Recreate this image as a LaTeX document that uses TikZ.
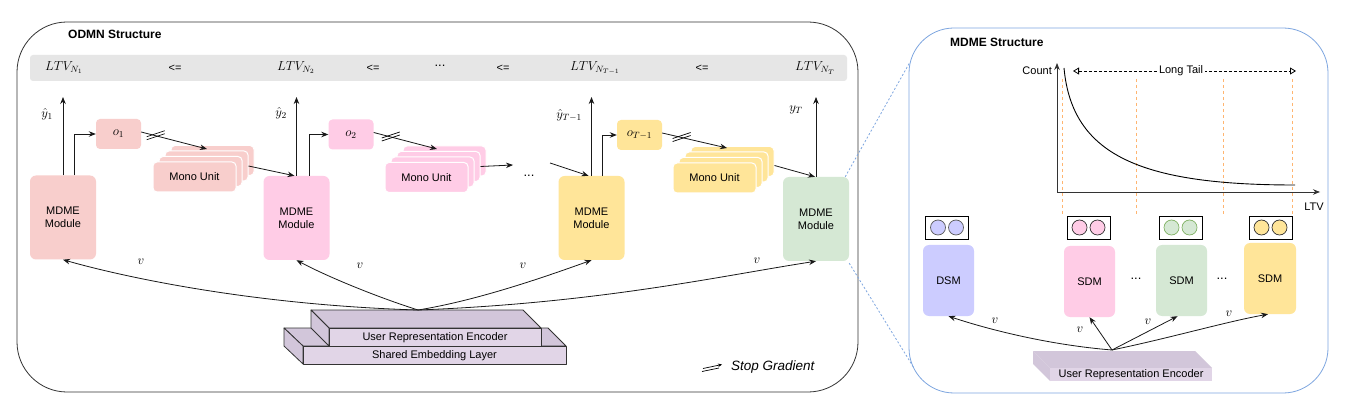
\RequirePackage{fix-cm}
\documentclass[tikz,border=0pt]{standalone}
\usepackage{fontspec}
\setmainfont{Liberation Sans}
\usetikzlibrary{arrows.meta,calc}
\definecolor{redL}{HTML}{F8CECC}
\definecolor{pinkL}{HTML}{FFCCE6}
\definecolor{yelL}{HTML}{FFE599}
\definecolor{greenL}{HTML}{D5E8D4}
\definecolor{purpL}{HTML}{CCCCFF}
\definecolor{encF}{HTML}{E1D5E7}
\definecolor{encT}{HTML}{D2C6DA}
\definecolor{blueS}{HTML}{7EA6E0}
\definecolor{orangeD}{HTML}{FFB570}
\definecolor{barG}{HTML}{E6E6E6}
\definecolor{edgeC}{HTML}{333333}
\definecolor{greenS}{HTML}{82B366}
\newcommand\fsA{\fontsize{11}{13}\selectfont}
\newcommand\fsB{\fontsize{12}{14}\selectfont}
\newcommand\fsM{\fontsize{13}{15}\selectfont}
\newcommand\fsL{\fontsize{13.5}{16}\selectfont}
\tikzset{sgmark/.pic={\draw[line width=0.7pt] (-9,4) -- (9,-2); \draw[line width=0.7pt] (-9,1) -- (9,-5);}}
\begin{document}
\begin{tikzpicture}[x=1pt,y=-1pt,
  every node/.style={font=\fsA, text=black},
  mod/.style={rounded corners=6pt, minimum width=66pt, minimum height=84pt, align=center, inner sep=0pt},
  obox/.style={rounded corners=4pt, minimum width=45pt, minimum height=30pt, inner sep=0pt, font=\fsM},
  mono/.style={rounded corners=4pt, minimum width=83pt, minimum height=30pt, draw=white, line width=1pt, inner sep=0pt},
  arr/.style={-{Stealth[length=7pt,width=5.5pt]}, line width=0.8pt, draw=black!90},
  sub/.style={rounded corners=6pt, minimum width=51pt, minimum height=71pt, inner sep=0pt},
  cbox/.style={draw=black, line width=0.8pt, minimum width=43pt, minimum height=23pt, inner sep=0pt},
  cdot/.style={circle, minimum size=15pt, inner sep=0pt, line width=0.7pt},
  orng/.style={draw=orangeD, dash pattern=on 3pt off 3pt, line width=0.9pt},
  zoomln/.style={draw=blueS, dash pattern=on 2pt off 2pt, line width=0.8pt},
  fce/.style={draw=edgeC, line width=0.8pt, line join=round},
  mlab/.style={font=\fsM, inner sep=0pt},
  dts/.style={font=\fsM}
]
\fill[white] (0,0) rectangle (1351,403);
\useasboundingbox (0,0) rectangle (1351,403);

% ================= ODMN =================
\draw[draw=black!80, line width=0.8pt, rounded corners=50pt] (17,22) rectangle (858,392);
\node[anchor=west, font=\fsB\bfseries, inner sep=0pt] (odmnT) at (68,34) {ODMN Structure};
\node[fill=barG, rounded corners=3pt, minimum width=817pt, minimum height=26pt, inner sep=0pt] (bar) at (438.5,68) {};
\node[font=\fsM] (l1) at (64,68) {$LTV_{N_1}$};
\node (le1) at (175,68) {<=};
\node[font=\fsM] (l2) at (296,68) {$LTV_{N_2}$};
\node (le2) at (373,68) {<=};
\node[dts] (ld) at (440,66) {...};
\node (le3) at (503,68) {<=};
\node[font=\fsM] (l3) at (595,68) {$LTV_{N_{T-1}}$};
\node (le4) at (702,68) {<=};
\node[font=\fsM] (l4) at (815,68) {$LTV_{N_T}$};

% modules
\node[mod, fill=redL] (m1) at (63,217.5) {MDME\\Module};
\node[mod, fill=pinkL] (m2) at (296.5,218) {MDME\\Module};
\node[mod, fill=yelL] (m3) at (591.5,218) {MDME\\Module};
\node[mod, fill=greenL] (m4) at (816,219) {MDME\\Module};

% o boxes
\node[obox, fill=redL] (o1) at (118.5,134) {$o_1$};
\node[obox, fill=pinkL] (o2) at (351,134.5) {$o_2$};
\node[obox, fill=yelL] (o3) at (639.5,135) {$o_{T-1}$};

% mono stacks
\foreach \k in {3,2,1} {
  \node[mono, fill=redL] (mua-\k) at (194.5+6*\k,177-5.5*\k) {};
}
\node[mono, fill=redL] (mua-0) at (194.5,177) {Mono Unit};
\foreach \k in {3,2,1} {
  \node[mono, fill=pinkL] (mub-\k) at (426.5+6*\k,177.5-5.5*\k) {};
}
\node[mono, fill=pinkL] (mub-0) at (426.5,177.5) {Mono Unit};
\foreach \k in {3,2,1} {
  \node[mono, fill=yelL] (muc-\k) at (714.5+6*\k,178-5.5*\k) {};
}
\node[mono, fill=yelL] (muc-0) at (714.5,178) {Mono Unit};

% up arrows
\coordinate (ytop) at (0,97);
\draw[arr] (m1.north) -- (m1.north |- ytop);
\draw[arr] (m2.north) -- (m2.north |- ytop);
\draw[arr] (m3.north) -- (m3.north |- ytop);
\draw[arr] (m4.north) -- (m4.north |- ytop);
\node[mlab] (y1) at (47,114) {$\hat{y}_1$};
\node[mlab] (y2) at (281,113) {$\hat{y}_2$};
\node[mlab] (y3) at (569,115) {$\hat{y}_{T-1}$};
\node[mlab] (y4) at (796,110) {$y_T$};

% module -> o
\draw[arr] ([xshift=11pt]m1.north) |- (o1.west);
\draw[arr] ([xshift=12.5pt]m2.north) |- (o2.west);
\draw[arr] ([xshift=10.5pt]m3.north) |- (o3.west);

% o -> mono (stop gradient)
\coordinate (t1) at (207,149);
\coordinate (t2) at (437,149);
\coordinate (t3) at (727,148);
\draw[arr] ([yshift=2pt]o1.east) -- (t1) coordinate[pos=0.22] (s1);
\draw[arr] ([yshift=2pt]o2.east) -- (t2) coordinate[pos=0.27] (s2);
\draw[arr] ([yshift=2pt]o3.east) -- (t3) coordinate[pos=0.3] (s3);
\pic at (s1) {sgmark};
\pic at (s2) {sgmark};
\pic at (s3) {sgmark};

% mono -> next module
\draw[arr] (mua-2.east) -- ([xshift=-2pt]m2.north);
\coordinate (e1) at (513,165);
\draw[arr] (mub-2.east) -- (e1);
\node[dts] (dots1) at (529,176) {...};
\coordinate (e2) at (550,163);
\draw[arr] (e2) -- ([xshift=-3pt]m3.north);
\draw[arr] ($(muc-3.east)+(0,4)$) -- ([xshift=-1pt]m4.north);

% encoder stack
\filldraw[fce, fill=encT] (284,328) -- (548,328) -- (566,346) -- (303,346) -- cycle;
\filldraw[fce, fill=encT] (284,328) -- (303,346) -- (303,364) -- (284,346) -- cycle;
\filldraw[fce, fill=encF] (303,346) rectangle (566,364);
\filldraw[fce, fill=encT] (311,310) -- (523,310) -- (541,328) -- (329,328) -- cycle;
\filldraw[fce, fill=encT] (311,310) -- (329,328) -- (329,346) -- (311,328) -- cycle;
\filldraw[fce, fill=encF] (329,328) rectangle (541,346);
\node (ure) at (435,337.5) {User Representation Encoder};
\node (sel) at (434.5,355.5) {Shared Embedding Layer};
\coordinate (src1) at (418,310);

% v arrows
\draw[arr] (src1) .. controls (250,305) and (120,276) .. (m1.south);
\draw[arr] (src1) .. controls (380,298) and (330,278) .. (m2.south);
\draw[arr] (src1) .. controls (480,300) and (550,275) .. (m3.south);
\draw[arr] (src1) .. controls (600,303) and (720,276) .. (m4.south);
\node[mlab] (v1) at (141,262) {$v$};
\node[mlab] (v2) at (360,266) {$v$};
\node[mlab] (v3) at (523,266) {$v$};
\node[mlab] (v4) at (757,261) {$v$};

% legend
\draw[-{Stealth[length=4pt,width=3.5pt]}, line width=0.7pt] (703,368.5) -- (722,364.5);
\draw[line width=0.7pt] (702,371.5) -- (719,368);
\node[anchor=west, font=\fsL\itshape, inner sep=0pt] (sg) at (731,367) {Stop Gradient};

% zoom lines
\draw[zoomln] ([xshift=-4pt]m4.north east) -- (910,62);
\draw[zoomln] ([yshift=-2pt]m4.south east) -- (914,368);

% ================= MDME =================
\draw[draw=blueS, line width=0.8pt, rounded corners=45pt] (909,28) rectangle (1328,393);
\node[anchor=west, font=\fsB\bfseries, inner sep=0pt] (mdmeT) at (950,42) {MDME Structure};

% chart
\coordinate (org) at (1057,192);
\foreach \xx in {1062,1136,1223,1292} { \draw[orng] (\xx,79) -- (\xx,216); }
\draw[-{Stealth[length=7pt,width=5.5pt]}, line width=0.9pt, draw=edgeC] (org) -- (1057,63);
\draw[-{Stealth[length=7pt,width=5.5pt]}, line width=0.9pt, draw=edgeC] (org) -- (1320,192);
\draw[line width=0.9pt] (1064,68) .. controls (1072,155) and (1140,185) .. (1295,185);
\node[anchor=east, inner sep=0pt] (cnt) at (1052,71) {Count};
\node (ltvx) at (1314,207) {LTV};
\coordinate (lt1) at (1073,71);
\coordinate (lt2) at (1296,71);
\draw[dash pattern=on 3pt off 2pt, line width=0.8pt, {Triangle[open,length=6pt,width=7pt]}-{Triangle[open,length=6pt,width=7pt]}] (lt1) -- (lt2);
\node[fill=white, inner sep=1.5pt] (ltl) at (1181,71) {Long Tail};

% circle boxes
\node[cbox] (cb1) at (947,227.5) {};
\node[cbox] (cb2) at (1088.5,227.5) {};
\node[cbox] (cb3) at (1180.5,227.5) {};
\node[cbox] (cb4) at (1270.5,227.5) {};
\foreach \c/\f/\s in {cb1/purpL/black!65, cb2/pinkL/edgeC, cb3/greenL/greenS, cb4/yelL/edgeC} {
  \node[cdot, fill=\f, draw=\s] at ([xshift=-9pt]\c.center) {};
  \node[cdot, fill=\f, draw=\s] at ([xshift=9pt]\c.center) {};
}

% sub modules
\node[sub, fill=purpL] (dsm) at (948.5,280.5) {DSM};
\node[sub, fill=pinkL] (sdm1) at (1089.5,281.5) {SDM};
\node[sub, fill=greenL] (sdm2) at (1181.5,280.5) {SDM};
\node[sub, fill=yelL, minimum width=52pt] (sdm3) at (1270,278.5) {SDM};
\node[dts] (dots2) at (1136,279) {...};
\node[dts] (dots3) at (1222,279) {...};

% right encoder
\fill[encT] (1033,351) -- (1195,351) -- (1212,368) -- (1050,368) -- cycle;
\fill[encT] (1033,351) -- (1050,368) -- (1050,381) -- (1033,364) -- cycle;
\fill[encF] (1050,368) rectangle (1212,381);
\node (ure2) at (1131,374.5) {User Representation Encoder};
\coordinate (src2) at (1112,350);

\draw[arr] (src2) .. controls (1050,345) and (990,330) .. (dsm.south);
\draw[arr] (src2) -- (sdm1.south);
\draw[arr] (src2) -- ([xshift=-4pt]sdm2.south);
\draw[arr] (src2) .. controls (1170,338) and (1225,322) .. ([xshift=-2pt]sdm3.south);
\node[mlab] (w1) at (995,321) {$v$};
\node[mlab] (w2) at (1080,330) {$v$};
\node[mlab] (w3) at (1148,322) {$v$};
\node[mlab] (w4) at (1229,314) {$v$};
\end{tikzpicture}
\end{document}
